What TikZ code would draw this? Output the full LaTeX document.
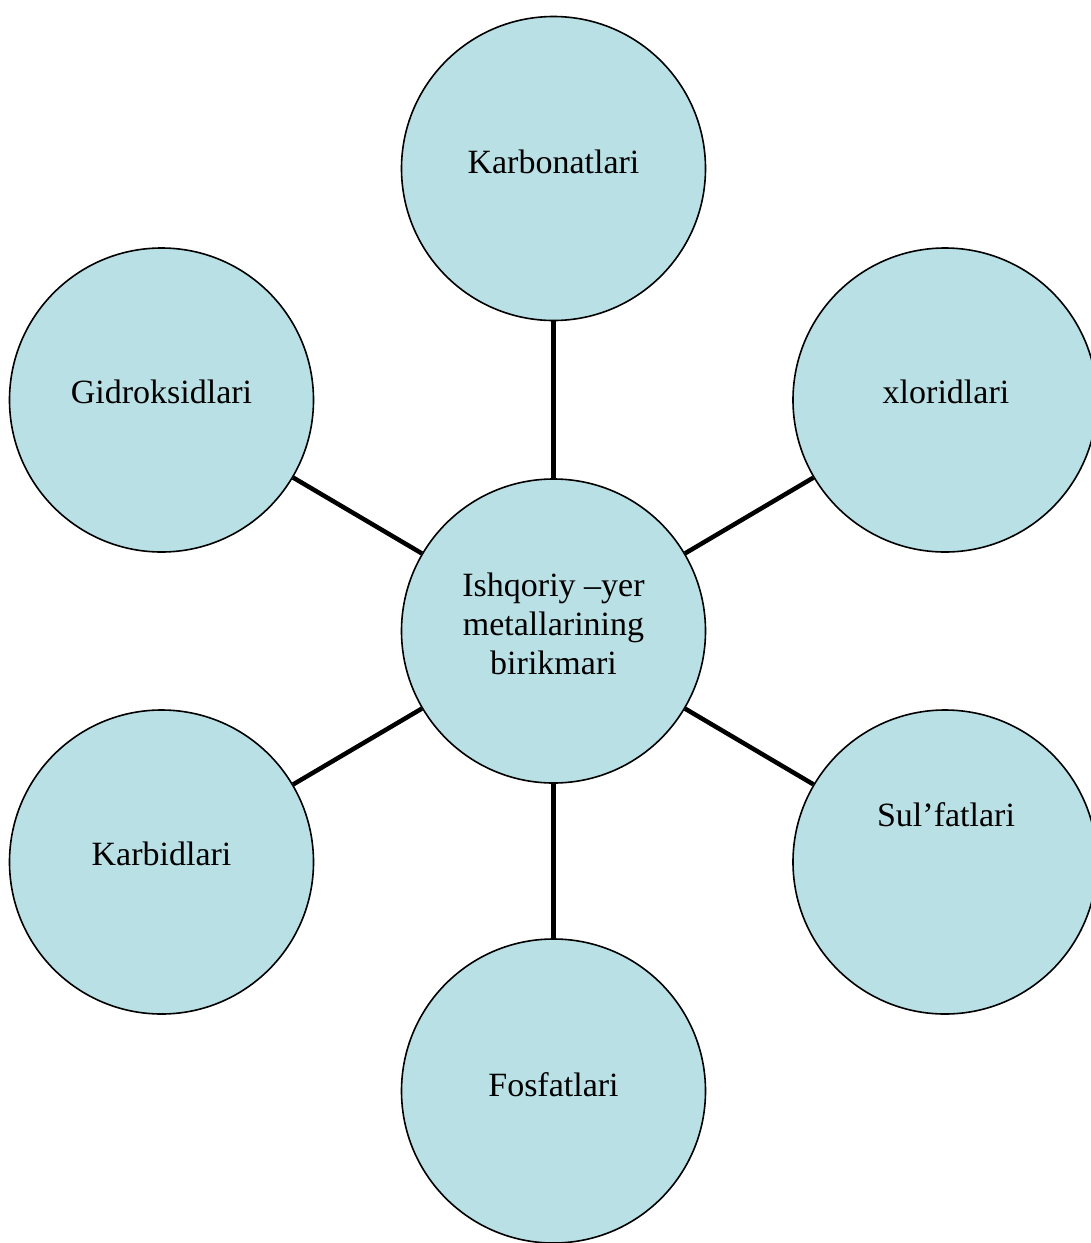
\documentclass[tikz,border=0pt]{standalone}
\usepackage{fontspec}
\setmainfont{Liberation Serif}
\definecolor{circfill}{HTML}{B9E0E4}
\begin{document}
\begin{tikzpicture}[x=1pt,y=-1pt,
  bubble/.style={circle,draw=black,line width=1.6pt,fill=circfill,minimum size=304pt,inner sep=0pt},
  txt/.style={font=\fontsize{34}{39}\selectfont,align=center,inner sep=0pt},
  link/.style={line width=4.5pt,black}]
\useasboundingbox (0,0) rectangle (1091,1243);
\clip (0,0) rectangle (1091,1243);
\node[bubble] (c) at (553.5,631) {};
\node[bubble] (t) at (553.5,168.5) {};
\node[bubble] (lu) at (161.5,400) {};
\node[bubble] (ru) at (945,400) {};
\node[bubble] (ll) at (161.5,862) {};
\node[bubble] (rl) at (945,862) {};
\node[bubble] (b) at (553.5,1091) {};
\draw[link] (c) -- (t);
\draw[link] (c) -- (lu);
\draw[link] (c) -- (ru);
\draw[link] (c) -- (ll);
\draw[link] (c) -- (rl);
\draw[link] (c) -- (b);
\node[txt] (tc) at (553.5,624) {Ishqoriy –yer\\metallarining\\birikmari};
\node[txt] (tt) at (553.5,162) {Karbonatlari};
\node[txt] (tlu) at (161.5,392) {Gidroksidlari};
\node[txt] (tru) at (946,392) {xloridlari};
\node[txt] (tll) at (161.5,854) {Karbidlari};
\node[txt] (trl) at (946,815) {Sul’fatlari};
\node[txt] (tb) at (553.5,1085) {Fosfatlari};
\end{tikzpicture}
\end{document}
